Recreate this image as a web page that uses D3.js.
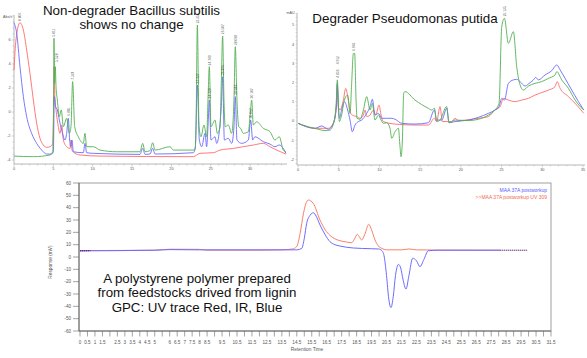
<!DOCTYPE html>
<html><head><meta charset="utf-8">
<script src="https://cdn.jsdelivr.net/npm/d3@7"></script>
<style>
body{margin:0;background:#fff}
svg{display:block}
text{font-family:"Liberation Sans",Arial,sans-serif}
</style>
</head><body>
<svg id="c" width="587" height="358"></svg>
<script>
// ---------- Top-left: Non-degrader Bacillus subtilis ----------
const tlRed = [[0,3.5],[0.25,6.0],[0.76,7.44],[1.19,6.83],[1.61,5.17],[2.03,3.22],[2.46,1.0],[2.88,-0.94],[3.30,-2.19],[3.73,-2.75],[4.15,-2.94],[4.57,-2.89],[4.91,-2.67],[5.04,1.0],[5.08,3.78],[5.21,1.0],[5.34,0.17],[5.63,-1.22],[5.84,-1.78],[6.06,-1.08],[6.27,-2.33],[6.69,-2.89],[7.12,-3.03],[7.24,-2.33],[7.37,-3.17],[7.75,-3.44],[8.39,-3.58],[10.93,-3.67],[22.79,-3.72],[23.63,-3.44],[25.33,-3.39],[26.18,-3.17],[27.87,-3.03],[29.14,-2.89],[30.41,-2.75],[31.68,-2.61],[32.53,-2.89],[33.38,-3.17],[34.56,-3.5]];
const tlBlue = [[0,7.44],[0.34,6.56],[0.76,3.78],[1.19,1.28],[1.61,-0.39],[2.24,-1.78],[2.88,-2.61],[3.52,-3.17],[4.15,-3.5],[4.79,-3.5],[5.0,-3.31],[5.12,1.28],[5.29,0.44],[5.51,0.17],[5.76,-0.67],[6.06,-1.5],[6.48,-2.33],[6.69,-1.78],[6.9,-0.53],[7.07,-2.33],[7.2,-2.89],[7.37,-2.33],[7.54,-3.31],[8.81,-3.39],[9.02,-2.61],[9.23,-3.39],[10.08,-3.44],[16.01,-3.53],[16.35,-3.03],[16.65,-3.53],[17.28,-3.5],[17.62,-3.03],[17.92,-3.5],[22.79,-3.39],[23.04,-2.89],[23.3,2.25],[23.55,-2.33],[23.85,-2.89],[24.27,-1.78],[24.48,-2.89],[24.65,-1.22],[24.82,1.0],[25.03,-2.33],[25.54,-2.06],[25.75,-2.61],[26.34,0.44],[26.51,2.94],[26.73,-2.33],[27.23,-2.19],[27.66,-2.61],[27.95,-1.22],[28.12,1.28],[28.33,-2.33],[28.93,-2.61],[29.78,-2.33],[30.07,-0.67],[30.33,-2.33],[30.62,-2.06],[31.68,-2.47],[32.53,-2.67],[33.16,-2.89],[33.71,-2.75],[34.56,-3.44]];
const tlGreen = [[0,-3.67],[2.46,-3.72],[4.57,-3.58],[4.91,-3.31],[5.04,1.0],[5.08,6.14],[5.17,2.39],[5.25,3.78],[5.34,2.11],[5.51,1.0],[5.76,-0.39],[6.01,0.17],[6.27,-1.22],[6.69,-0.53],[7.03,-1.78],[7.24,-1.22],[7.45,2.53],[7.71,-1.22],[8.17,-2.06],[8.81,-2.61],[9.02,-1.78],[9.23,-2.89],[10.08,-2.89],[10.93,-3.17],[13.05,-3.31],[16.01,-3.31],[16.35,-2.61],[16.65,-3.31],[17.28,-3.22],[17.62,-2.56],[17.92,-3.17],[19.82,-2.89],[20.25,-3.17],[23.0,-3.17],[23.13,-1.22],[23.3,7.25],[23.51,-1.22],[23.76,-2.06],[24.14,-1.08],[24.48,-2.06],[24.65,1.0],[24.82,3.78],[25.03,-1.22],[25.54,-0.67],[25.84,-1.78],[26.18,-1.22],[26.34,2.39],[26.51,6.33],[26.68,1.0],[26.85,-1.22],[27.23,-1.08],[27.66,-1.78],[27.95,1.0],[28.12,5.44],[28.33,1.0],[28.55,-1.22],[28.8,-1.36],[29.14,-1.78],[29.78,-1.64],[29.99,-0.39],[30.2,1.0],[30.41,-1.08],[30.83,-0.81],[31.68,-1.36],[32.53,-1.64],[33.16,-2.33],[33.71,-2.06],[34.22,-3.17],[34.56,-3.31]];
const tlPeakLabels = [[0.68,7.5,"0.806"],[5.08,6.2,"5.011"],[5.42,4.1,"5.528"],[6.9,-0.4,"6.885"],[7.45,2.6,"7.374"],[23.3,7.3,"23.256"],[23.3,2.3,"23.227"],[24.82,3.8,"24.749"],[24.82,1.05,"24.729"],[26.51,6.4,"26.507"],[26.51,3.0,"26.466"],[28.12,5.5,"28.088"],[28.12,1.35,"28.048"],[30.2,1.05,"30.107"],[30.07,-0.6,"30.067"]];
const tlXTicks = [0,5,10,15,20,25,30];
const tlYTicks = [6,4,2,0,-2,-4];

// ---------- Top-right: Degrader Pseudomonas putida ----------
const trGreen = [[0,-0.12],[1.27,-0.30],[2.50,-0.43],[3.32,-0.50],[3.93,-0.47],[4.46,0.05],[4.71,1.09],[4.83,2.14],[4.95,1.09],[5.08,-0.03],[5.36,0.31],[5.69,1.09],[6.10,1.35],[6.39,0.40],[6.59,1.96],[6.80,3.52],[6.96,3.52],[7.13,1.09],[7.25,0.14],[7.62,0.09],[8.03,0.57],[8.44,1.27],[8.85,0.57],[9.13,0.92],[9.46,0.05],[9.87,0.31],[10.20,0.05],[10.48,-0.12],[10.89,-0.09],[11.30,-0.38],[11.51,-0.90],[11.92,-0.56],[12.33,-0.38],[12.53,-1.34],[12.65,-1.86],[12.82,-0.99],[12.98,1.44],[13.14,1.53],[14.37,1.09],[16.01,0.66],[16.42,0.57],[16.75,0.66],[17.03,-0.03],[17.44,0.05],[18.26,0.75],[18.55,-0.09],[19.29,0.05],[20.93,0.02],[22.15,0.09],[23.38,0.31],[24.18,0.57],[24.69,0.92],[25.02,4.91],[25.35,5.35],[25.84,4.05],[26.45,4.65],[26.86,2.83],[27.27,1.88],[27.68,1.61],[28.30,1.82],[29.11,1.96],[29.93,2.05],[30.75,2.22],[31.57,2.40],[31.78,2.57],[32.39,2.14],[33.21,1.70],[34.03,1.09],[35.09,0.57]];
const trBlue = [[0,-0.12],[2.09,-0.38],[2.91,-0.26],[3.73,-0.43],[4.34,-0.12],[4.71,0.75],[4.83,1.96],[4.95,0.75],[5.08,0.14],[5.36,0.57],[5.69,1.01],[6.10,0.57],[6.39,0.05],[6.67,-0.56],[7.00,-0.21],[7.41,-0.03],[7.82,0.05],[8.44,0.40],[8.85,0.75],[9.13,1.13],[9.46,0.31],[9.87,0.40],[10.28,0.14],[10.89,0.14],[11.51,0.14],[11.92,0.09],[12.74,-0.12],[14.37,-0.16],[16.01,-0.09],[16.75,0.57],[17.03,0.05],[17.65,0.05],[18.26,0.66],[18.55,-0.09],[19.29,-0.03],[20.93,0.05],[22.15,0.19],[23.38,0.40],[24.18,0.57],[24.69,0.75],[25.02,1.18],[25.35,1.09],[25.84,1.96],[26.45,2.14],[26.86,2.17],[27.27,2.05],[27.89,1.82],[28.30,1.93],[28.91,2.14],[29.20,2.27],[29.52,2.14],[30.34,2.40],[31.16,2.62],[31.78,2.92],[32.19,2.66],[32.80,2.22],[33.62,1.61],[34.44,1.01],[35.09,0.57]];
const trRed = [[0,-0.12],[2.09,-0.38],[3.73,-0.38],[4.34,-0.12],[4.71,0.75],[4.83,1.88],[4.95,0.75],[5.16,0.57],[5.57,1.09],[5.86,1.70],[6.18,1.09],[6.47,0.40],[6.67,0.31],[7.21,0.23],[7.62,0.14],[8.03,0.31],[8.23,0.57],[8.44,0.23],[8.85,0.31],[9.26,0.57],[9.54,0.31],[9.95,0.83],[10.20,0.31],[10.48,-0.03],[11.92,-0.16],[14.37,-0.21],[16.01,-0.21],[16.75,0.14],[17.03,-0.03],[17.44,0.75],[17.73,-0.03],[18.26,-0.03],[18.88,-0.03],[19.29,0.14],[19.70,0.02],[22.15,0.14],[23.38,0.23],[24.18,0.57],[24.82,0.75],[25.23,1.18],[25.84,1.09],[26.65,1.01],[27.48,1.09],[28.30,1.18],[29.11,1.35],[29.93,1.48],[30.75,1.61],[31.57,1.79],[31.82,2.05],[32.19,1.70],[33.21,1.27],[34.23,0.83],[35.09,0.40]];
const trPeakLabels = [[4.83,2.2,"4.836"],[4.88,2.9,"4.912"],[6.88,3.6,"6.943"],[25.35,5.4,"25.135"]];
const trXTicks = [0,5,10,15,20,25,30,35];
const trYTicks = [5,4,3,2,1,0,-1,-2];

// ---------- Bottom: GPC ----------
const gpcUV = [[0,5],[0.7,5.2],[5,5.5],[6,6.3],[8,6.2],[8.5,5.5],[12,5.5],[13.5,5.8],[14.2,6.5],[14.49,8.4],[14.72,19],[14.94,35],[15.1,43],[15.27,46.2],[15.6,43.5],[16.05,30],[16.4,22],[16.72,17.5],[17.0,15],[17.39,13.2],[17.8,12.2],[18.17,11.6],[18.35,14.5],[18.55,18.4],[18.7,16],[18.84,13.8],[19.05,18.5],[19.31,26.5],[19.5,22],[19.73,13.8],[19.95,9],[20.18,7],[20.5,5.8],[21.5,5.8],[22,6.5],[22.5,5.8],[24,5.6],[28.1,5.5]];
const gpcIR = [[0,5],[5,5.5],[6,6],[8,5.8],[14.5,5.8],[14.83,7],[15.0,15],[15.16,27.3],[15.4,34],[15.6,35.9],[15.8,33],[16.05,26],[16.4,18],[16.72,12.4],[17.0,10.2],[17.39,8.9],[18.28,7.3],[19.5,6.7],[19.96,6.5],[20.2,5],[20.35,0],[20.5,-15],[20.65,-34],[20.8,-41],[20.95,-32],[21.1,-15],[21.3,-6],[21.45,-9],[21.6,-18],[21.8,-26],[22.0,-15],[22.25,-1],[22.5,-3],[22.74,-7.8],[23.0,-2],[23.3,5.1],[24,5.5],[28.1,5.5]];
const gpcTail = [[28.1,5.5],[29.9,5.5]];
const gpcStart = [[0,5],[0.7,5.1]];
const gpcYTicks = [60,50,40,30,20,10,0,-10,-20,-30,-40,-50,-60];
const gpcXLabels = ["0","0.5","1","1.5","2.5","3","3.5","4","4.5","5","6","6.5","7","7.5","8","8.5","9.5","10.5","11.5","12.5","13.5","14.5","15.5","16.5","17.5","18.5","19.5","20.5","21.5","22.5","23.5","24.5","25.5","26.5","27.5","28.5","29.5","30.5","31.5"];
const legendNames = ["MAA 37A postworkup", ">>MAA 37A postworkup UV 309"];

const svg = d3.select("#c");
svg.append("rect").attr("width",587).attr("height",358).attr("fill","#fff");

const C = {red:"#ff6a6a", blue:"#6a6aff", green:"#52b052"};

function drawLine(g, data, x, y, color, w, dash){
  const ln = d3.line().x(d=>x(d[0])).y(d=>y(d[1])).curve(d3.curveMonotoneX);
  const p = g.append("path").datum(data).attr("d",ln).attr("fill","none")
    .attr("stroke",color).attr("stroke-width",w||0.9).attr("stroke-linejoin","round");
  if(dash) p.attr("stroke-dasharray",dash);
}
function peakLabels(g, labels, x, y){
  labels.forEach(l=>{
    const px = x(l[0]), py = y(l[1]) - 1;
    g.append("text").attr("transform",`translate(${px+1.2},${py}) rotate(-90)`)
      .attr("font-size",3.3).attr("fill","#333").attr("fill-opacity",0.8).text(l[2]);
  });
}

// ===== Top-left panel =====
{
  const x = d3.scaleLinear().domain([0,34.6]).range([14,286.3]);
  const y = d3.scaleLinear().domain([-4.33,8.08]).range([164,15]);
  const g = svg.append("g");
  g.append("line").attr("x1",14).attr("x2",14).attr("y1",15).attr("y2",164).attr("stroke","#999").attr("stroke-width",0.7);
  g.append("line").attr("x1",14).attr("x2",287).attr("y1",164).attr("y2",164).attr("stroke","#999").attr("stroke-width",0.7);
  d3.range(-4,8.01,0.5).forEach(v=>{
    g.append("line").attr("x1",14).attr("x2",v%2===0?11.5:12.5).attr("y1",y(v)).attr("y2",y(v)).attr("stroke","#aaa").attr("stroke-width",0.5);
  });
  d3.range(0,35,1).forEach(t=>{
    g.append("line").attr("x1",x(t)).attr("x2",x(t)).attr("y1",164).attr("y2",t%5===0?167:165.5).attr("stroke","#aaa").attr("stroke-width",0.5);
  });
  tlYTicks.forEach(v=>g.append("text").attr("x",10.5).attr("y",y(v)+1.3).attr("text-anchor","end").attr("font-size",3.8).attr("fill","#555").text(v));
  tlXTicks.forEach(t=>g.append("text").attr("x",x(t)).attr("y",170).attr("text-anchor","middle").attr("font-size",3.8).attr("fill","#555").text(t));
  g.append("text").attr("x",3).attr("y",18).attr("font-size",3.6).attr("fill","#555").text("Abs/s");
  drawLine(g, tlRed, x, y, C.red);
  drawLine(g, tlBlue, x, y, C.blue);
  drawLine(g, tlGreen, x, y, C.green);
  peakLabels(g, tlPeakLabels, x, y);
  g.append("text").attr("x",131.5).attr("y",15).attr("text-anchor","middle").attr("font-size",13.4).attr("fill","#111").text("Non-degrader Bacillus subtilis");
  g.append("text").attr("x",131.5).attr("y",28.5).attr("text-anchor","middle").attr("font-size",13.4).attr("fill","#111").text("shows no change");
}

// ===== Top-right panel =====
{
  const x = d3.scaleLinear().domain([0,35]).range([298,583]);
  const y = d3.scaleLinear().domain([0,5]).range([121,25]);
  const g = svg.append("g");
  g.append("line").attr("x1",297).attr("x2",297).attr("y1",13).attr("y2",165).attr("stroke","#999").attr("stroke-width",0.7);
  g.append("line").attr("x1",297).attr("x2",585).attr("y1",165).attr("y2",165).attr("stroke","#999").attr("stroke-width",0.7);
  d3.range(-2.2,5.61,0.2).forEach(v=>{
    g.append("line").attr("x1",297).attr("x2",295.5).attr("y1",y(v)).attr("y2",y(v)).attr("stroke","#aaa").attr("stroke-width",0.4);
  });
  d3.range(0,35.01,1).forEach(t=>{
    g.append("line").attr("x1",x(t)).attr("x2",x(t)).attr("y1",165).attr("y2",t%5===0?167.5:166.3).attr("stroke","#aaa").attr("stroke-width",0.5);
  });
  trYTicks.forEach(v=>g.append("text").attr("x",294).attr("y",y(v)+1.3).attr("text-anchor","end").attr("font-size",3.8).attr("fill","#555").text(v));
  trXTicks.forEach(t=>g.append("text").attr("x",x(t)).attr("y",171).attr("text-anchor","middle").attr("font-size",3.8).attr("fill","#555").text(t));
  g.append("text").attr("x",286.5).attr("y",14).attr("font-size",3.6).attr("fill","#555").text("mAU");
  drawLine(g, trRed, x, y, C.red);
  drawLine(g, trBlue, x, y, C.blue);
  drawLine(g, trGreen, x, y, C.green);
  peakLabels(g, trPeakLabels, x, y);
  g.append("text").attr("x",405).attr("y",22.7).attr("text-anchor","middle").attr("font-size",13.4).attr("fill","#111").text("Degrader Pseudomonas putida");
}

// ===== Bottom GPC panel =====
{
  const x = d3.scaleLinear().domain([0,31.5]).range([80,551]);
  const y = d3.scaleLinear().domain([-60,60]).range([331,183]);
  const g = svg.append("g");
  g.append("rect").attr("x",79).attr("y",183).attr("width",472).attr("height",148).attr("fill","none").attr("stroke","#888").attr("stroke-width",0.8);
  g.append("line").attr("x1",79).attr("x2",79).attr("y1",183).attr("y2",331).attr("stroke","#555").attr("stroke-width",0.8);
  g.append("line").attr("x1",79).attr("x2",551).attr("y1",331).attr("y2",331).attr("stroke","#555").attr("stroke-width",0.8);
  gpcYTicks.forEach(v=>{
    g.append("line").attr("x1",73).attr("x2",79).attr("y1",y(v)).attr("y2",y(v)).attr("stroke","#666").attr("stroke-width",0.6);
    g.append("text").attr("x",71).attr("y",y(v)+1.6).attr("text-anchor","end").attr("font-size",4.6).attr("fill","#555").text(v);
  });
  d3.range(0,31.51,0.5).forEach(t=>{
    g.append("line").attr("x1",x(t)).attr("x2",x(t)).attr("y1",331).attr("y2",336.5).attr("stroke","#666").attr("stroke-width",0.6);
  });
  gpcXLabels.forEach(s=>{
    g.append("text").attr("x",x(+s)).attr("y",343.5).attr("text-anchor","middle").attr("font-size",4.6).attr("fill","#555").text(s);
  });
  g.append("text").attr("x",307).attr("y",351).attr("text-anchor","middle").attr("font-size",4.8).attr("fill","#555").text("Retention Time");
  g.append("text").attr("transform","translate(51.5,262) rotate(-90)").attr("text-anchor","middle").attr("font-size",4.8).attr("fill","#555").text("Response (mV)");
  drawLine(g, gpcUV, x, y, "#f5826b", 1);
  drawLine(g, gpcIR, x, y, "#6b6bff", 1);
  drawLine(g, gpcTail, x, y, "#4b0a6b", 1, "1.2,0.8");
  drawLine(g, gpcStart, x, y, "#4b0a6b", 1, "1.2,0.8");
  g.append("text").attr("x",547).attr("y",191.5).attr("text-anchor","end").attr("font-size",5).attr("fill","#5a5aff").text(legendNames[0]);
  g.append("text").attr("x",547).attr("y",198.8).attr("text-anchor","end").attr("font-size",5).attr("fill","#f06a50").text(legendNames[1]);
  const lines = ["A polystyrene polymer prepared","from feedstocks drived from lignin","GPC: UV trace Red, IR, Blue"];
  lines.forEach((s,i)=>g.append("text").attr("x",197).attr("y",282.7+i*14.6).attr("text-anchor","middle").attr("font-size",13.3).attr("fill","#111").text(s));
}
</script>
</body></html>
